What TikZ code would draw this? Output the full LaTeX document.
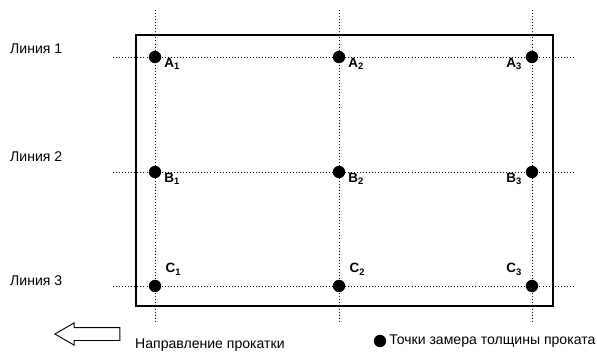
\documentclass[tikz,border=0pt]{standalone}
\usepackage{fontspec}
\setmainfont{Liberation Sans}
\usetikzlibrary{positioning,shapes.arrows}

\begin{document}
\begin{tikzpicture}[
  x=0.03cm, y=-0.03cm,
  pt/.style={circle, fill=black, inner sep=0pt, minimum size=3.7mm},
  guide/.style={dotted, line width=0.6pt},
  sheet/.style={draw, line width=1.6pt},
  lbl/.style={font=\bfseries\fontsize{11.5}{13}\selectfont, inner sep=0pt},
  linetxt/.style={font=\fontsize{12}{14}\selectfont, anchor=west, inner sep=0pt},
  legend/.style={font=\fontsize{12}{14}\selectfont, anchor=west, inner sep=0pt}
]
\useasboundingbox (0,0) rectangle (597,352);

% rolled sheet
\draw[sheet] (136,35) rectangle (553,306);

% guide lines through the measuring points
\foreach \c/\x in {1/155,2/339,3/532} {
  \coordinate (top\c) at (\x,10);
  \coordinate (bot\c) at (\x,321);
  \draw[guide] (top\c) -- (bot\c);
}
\foreach \r/\y in {1/57,2/172,3/286} {
  \coordinate (lft\r) at (113,\y);
  \coordinate (rgt\r) at (576,\y);
  \draw[guide] (lft\r) -- (rgt\r);
}

% measuring points
\foreach \r/\y in {A/57,B/172,C/286}
  \foreach \c/\x in {1/155,2/339,3/532}
    \node[pt] (\r\c) at (\x,\y) {};

\node[lbl, anchor=north west] at ([xshift=0.8mm, yshift=-0.2mm]A1.east) {A\textsubscript{1}};
\node[lbl, anchor=north west] at ([xshift=0.8mm, yshift=-0.2mm]A2.east) {A\textsubscript{2}};
\node[lbl, anchor=north east] at ([xshift=-1.0mm, yshift=-0.2mm]A3.west) {A\textsubscript{3}};
\node[lbl, anchor=north west] at ([xshift=0.8mm, yshift=-0.2mm]B1.east) {B\textsubscript{1}};
\node[lbl, anchor=north west] at ([xshift=0.8mm, yshift=-0.2mm]B2.east) {B\textsubscript{2}};
\node[lbl, anchor=north east] at ([xshift=-1.0mm, yshift=-0.2mm]B3.west) {B\textsubscript{3}};
\node[lbl, anchor=south west] at ([xshift=1.2mm, yshift=3.2mm]C1.east) {C\textsubscript{1}};
\node[lbl, anchor=south west] at ([xshift=1.2mm, yshift=3.2mm]C2.east) {C\textsubscript{2}};
\node[lbl, anchor=south east] at ([xshift=-1.0mm, yshift=3.2mm]C3.west) {C\textsubscript{3}};

% line names
\node[linetxt] (line1) at (10,49) {Линия 1};
\node[linetxt] (line2) at (10,157) {Линия 2};
\node[linetxt] (line3) at (10,281) {Линия 3};

% legend
\node[draw, single arrow, shape border rotate=180, single arrow tip angle=60,
      single arrow head extend=1.4mm, minimum height=1.95cm,
      inner xsep=0pt, inner ysep=1.8mm, line width=0.8pt] (dir) at (93,334) {};
\node[legend] (dirtxt) at (135,345) {Направление прокатки};
\node[pt] (key) at (380,341) {};
\node[legend, right=0.8mm of key] (keytxt) {Точки замера толщины проката};
\end{tikzpicture}
\end{document}
